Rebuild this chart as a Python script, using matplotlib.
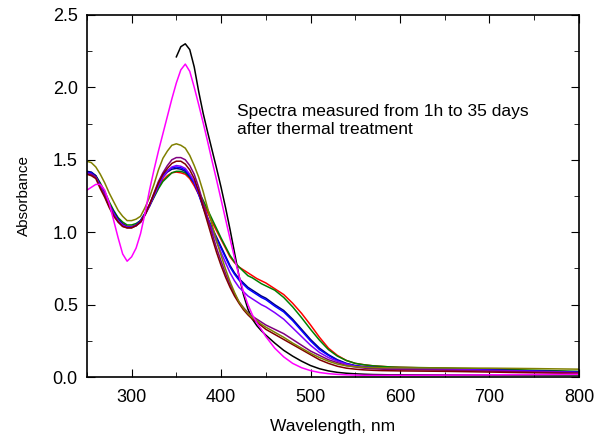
import matplotlib
matplotlib.use('Agg')
import matplotlib.pyplot as plt
from matplotlib.ticker import MultipleLocator

plt.rcParams['font.family'] = ['Liberation Sans', 'DejaVu Sans']

# wavelength grid, nm: 5 nm steps up to 450, then coarser
wl = [250, 255, 260, 265, 270, 275, 280, 285, 290, 295,
      300, 305, 310, 315, 320, 325, 330, 335, 340, 345,
      350, 355, 360, 365, 370, 375, 380, 385, 390, 395,
      400, 405, 410, 415, 420, 425, 430, 435, 440, 445,
      450, 460, 470, 480, 490, 500, 510, 520, 530, 540,
      550, 560, 570, 580, 590, 600, 650, 700, 750, 800]

# black spectrum starts at 350 nm
wl_black = wl[20:]
black = [2.21, 2.28, 2.30, 2.26, 2.14, 1.97, 1.82, 1.69, 1.565, 1.44,
         1.31, 1.17, 1.02, 0.86, 0.70, 0.57, 0.47, 0.40, 0.355, 0.32,
         0.29, 0.235, 0.185, 0.145, 0.11, 0.08, 0.058, 0.043, 0.033, 0.027,
         0.023, 0.02, 0.018, 0.017, 0.016, 0.016, 0.015, 0.015, 0.015, 0.015]

magenta = [1.29, 1.31, 1.33, 1.33, 1.29, 1.20, 1.08, 0.96, 0.85, 0.80,
           0.83, 0.89, 0.99, 1.13, 1.29, 1.43, 1.56, 1.68, 1.80, 1.92,
           2.03, 2.12, 2.16, 2.11, 2.00, 1.88, 1.755, 1.625, 1.49, 1.36,
           1.225, 1.09, 0.955, 0.825, 0.70, 0.59, 0.50, 0.43, 0.375, 0.33,
           0.28, 0.20, 0.14, 0.095, 0.065, 0.045, 0.032, 0.024, 0.019, 0.016,
           0.014, 0.013, 0.013, 0.013, 0.013, 0.013, 0.014, 0.016, 0.018, 0.02]

red = [1.40, 1.40, 1.38, 1.33, 1.27, 1.20, 1.14, 1.09, 1.06, 1.04,
       1.04, 1.05, 1.08, 1.13, 1.19, 1.25, 1.31, 1.36, 1.39, 1.41,
       1.415, 1.41, 1.40, 1.37, 1.32, 1.26, 1.20, 1.135, 1.07, 1.01,
       0.95, 0.89, 0.83, 0.79, 0.76, 0.74, 0.72, 0.70, 0.68, 0.665,
       0.65, 0.61, 0.57, 0.51, 0.44, 0.36, 0.275, 0.20, 0.15, 0.115,
       0.095, 0.085, 0.078, 0.074, 0.07, 0.068, 0.06, 0.052, 0.043, 0.035]

green = [1.41, 1.41, 1.39, 1.34, 1.28, 1.21, 1.15, 1.10, 1.07, 1.05,
         1.05, 1.06, 1.08, 1.13, 1.18, 1.24, 1.30, 1.35, 1.38, 1.41,
         1.42, 1.42, 1.41, 1.38, 1.34, 1.28, 1.22, 1.155, 1.09, 1.025,
         0.96, 0.90, 0.84, 0.795, 0.76, 0.73, 0.70, 0.685, 0.665, 0.645,
         0.63, 0.60, 0.55, 0.485, 0.41, 0.33, 0.255, 0.19, 0.145, 0.115,
         0.095, 0.085, 0.078, 0.074, 0.07, 0.068, 0.063, 0.056, 0.048, 0.04]

navy = [1.42, 1.415, 1.39, 1.33, 1.26, 1.19, 1.14, 1.09, 1.055, 1.037,
        1.035, 1.045, 1.07, 1.12, 1.18, 1.25, 1.32, 1.38, 1.415, 1.435,
        1.44, 1.435, 1.42, 1.385, 1.34, 1.265, 1.18, 1.10, 1.03, 0.965,
        0.90, 0.835, 0.77, 0.72, 0.68, 0.65, 0.62, 0.60, 0.58, 0.56,
        0.545, 0.50, 0.46, 0.40, 0.33, 0.26, 0.20, 0.155, 0.12, 0.095,
        0.08, 0.072, 0.068, 0.065, 0.063, 0.062, 0.057, 0.05, 0.043, 0.035]

blue = [1.41, 1.41, 1.38, 1.32, 1.25, 1.18, 1.13, 1.08, 1.05, 1.035,
        1.035, 1.05, 1.08, 1.13, 1.19, 1.26, 1.33, 1.39, 1.425, 1.445,
        1.45, 1.445, 1.43, 1.39, 1.34, 1.26, 1.17, 1.09, 1.02, 0.955,
        0.89, 0.825, 0.76, 0.71, 0.67, 0.64, 0.61, 0.59, 0.57, 0.55,
        0.535, 0.49, 0.45, 0.39, 0.32, 0.25, 0.19, 0.15, 0.115, 0.092,
        0.078, 0.07, 0.066, 0.063, 0.061, 0.06, 0.055, 0.048, 0.041, 0.033]

violet = [1.41, 1.40, 1.38, 1.32, 1.26, 1.19, 1.13, 1.08, 1.05, 1.035,
          1.035, 1.045, 1.07, 1.12, 1.18, 1.25, 1.32, 1.38, 1.42, 1.45,
          1.46, 1.455, 1.44, 1.40, 1.35, 1.27, 1.18, 1.095, 1.01, 0.935,
          0.86, 0.79, 0.72, 0.665, 0.62, 0.59, 0.56, 0.54, 0.52, 0.50,
          0.485, 0.445, 0.40, 0.34, 0.28, 0.22, 0.17, 0.135, 0.11, 0.09,
          0.075, 0.068, 0.064, 0.061, 0.06, 0.058, 0.054, 0.047, 0.04, 0.032]

purple = [1.40, 1.40, 1.38, 1.31, 1.25, 1.18, 1.12, 1.07, 1.04, 1.03,
          1.03, 1.045, 1.07, 1.12, 1.19, 1.27, 1.35, 1.41, 1.46, 1.50,
          1.515, 1.515, 1.50, 1.46, 1.40, 1.31, 1.20, 1.095, 0.99, 0.89,
          0.80, 0.715, 0.64, 0.575, 0.52, 0.48, 0.445, 0.42, 0.40, 0.38,
          0.36, 0.33, 0.30, 0.26, 0.22, 0.18, 0.15, 0.12, 0.10, 0.08,
          0.07, 0.062, 0.058, 0.055, 0.053, 0.052, 0.048, 0.042, 0.036, 0.03]

maroon = [1.40, 1.39, 1.37, 1.30, 1.24, 1.17, 1.11, 1.07, 1.04, 1.03,
          1.03, 1.045, 1.07, 1.12, 1.19, 1.265, 1.34, 1.40, 1.44, 1.475,
          1.49, 1.49, 1.47, 1.43, 1.37, 1.28, 1.17, 1.065, 0.96, 0.86,
          0.77, 0.69, 0.62, 0.56, 0.51, 0.465, 0.43, 0.40, 0.38, 0.355,
          0.33, 0.295, 0.26, 0.225, 0.19, 0.155, 0.12, 0.095, 0.075, 0.062,
          0.055, 0.05, 0.047, 0.045, 0.044, 0.043, 0.04, 0.035, 0.03, 0.025]

olive = [1.49, 1.48, 1.45, 1.40, 1.34, 1.27, 1.21, 1.15, 1.11, 1.08,
         1.08, 1.09, 1.11, 1.17, 1.24, 1.33, 1.43, 1.51, 1.56, 1.60,
         1.61, 1.60, 1.58, 1.53, 1.46, 1.38, 1.28, 1.165, 1.05, 0.94,
         0.84, 0.745, 0.66, 0.585, 0.52, 0.475, 0.44, 0.41, 0.39, 0.365,
         0.345, 0.31, 0.275, 0.235, 0.20, 0.165, 0.135, 0.11, 0.09, 0.078,
         0.072, 0.068, 0.066, 0.065, 0.064, 0.064, 0.063, 0.062, 0.059, 0.055]

series = [(red, 'red'), (green, 'green'), (navy, '#000080'), (blue, 'blue'),
          (violet, '#8000ff'), (purple, 'purple'), (maroon, '#800000'),
          (olive, '#808000'), (magenta, 'magenta')]

fig = plt.figure(figsize=(5.95, 4.36), dpi=100)
ax = fig.add_axes([0.146, 0.135, 0.827, 0.831])

ax.plot(wl_black, black, color='black', lw=1.1)
for vals, c in series:
    ax.plot(wl, vals, color=c, lw=1.1)

ax.set_xlim(250, 800)
ax.set_ylim(0, 2.5)
ax.xaxis.set_major_locator(MultipleLocator(100))
ax.xaxis.set_minor_locator(MultipleLocator(50))
ax.yaxis.set_major_locator(MultipleLocator(0.5))
ax.yaxis.set_minor_locator(MultipleLocator(0.25))
ax.yaxis.set_major_formatter(plt.FormatStrFormatter('%.1f'))
ax.tick_params(which='both', direction='in', top=True, right=True, labelsize=13)
ax.tick_params(which='major', length=6)
ax.tick_params(which='minor', length=3.5)
ax.tick_params(axis='x', which='major', pad=8.5)
ax.tick_params(axis='y', which='major', pad=6.5)
for s in ax.spines.values():
    s.set_linewidth(1.2)

ax.set_xlabel('Wavelength, nm', fontsize=12.5, labelpad=9.5)
ax.set_ylabel('Absorbance', fontsize=11, labelpad=16)

ax.text(418, 1.77, 'Spectra measured from 1h to 35 days\nafter thermal treatment',
        fontsize=12.5, va='center', ha='left', linespacing=1.2)

fig.savefig('out.png', dpi=100)
